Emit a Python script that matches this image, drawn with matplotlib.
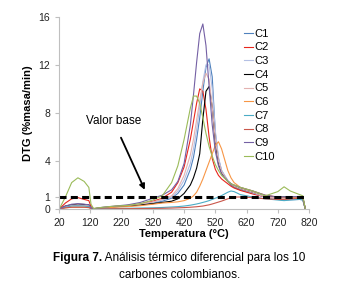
import matplotlib
matplotlib.use("Agg")
import matplotlib.pyplot as plt

plt.rcParams["font.family"] = ["Liberation Sans", "DejaVu Sans"]

# temperature grid (°C) shared by all curves
temp = [20, 40, 60, 80, 100, 115, 122, 130, 160, 200, 240, 280, 320, 350, 380,
        400, 420, 440, 450, 460, 470, 480, 490, 500, 510, 520, 530, 540, 560,
        570, 580, 600, 640, 680, 720, 740, 760, 790, 800, 808]

c1 = [0, 0.2, 0.3, 0.3, 0.3, 0.25, 0.08, 0.02, 0.1, 0.2, 0.25, 0.35, 0.5, 0.65, 0.9,
      1.3, 2.0, 3.3, 4.3, 5.8, 7.6, 9.8, 11.8, 12.5, 11.0, 6.3, 4.2, 3.2, 2.3,
      2.0, 1.8, 1.6, 1.3, 1.0, 0.85, 0.8, 0.8, 0.85, 0.8, 0]
c2 = [0, 0.5, 0.85, 0.95, 0.8, 0.7, 0.2, 0.03, 0.12, 0.22, 0.3, 0.42, 0.65, 0.9, 1.4,
      2.2, 3.5, 5.8, 7.3, 8.8, 10.0, 9.8, 8.3, 6.0, 4.2, 3.3, 2.8, 2.5, 2.1,
      1.9, 1.75, 1.55, 1.25, 1.0, 0.8, 0.75, 0.8, 0.85, 0.8, 0]
c3 = [0, 0.15, 0.3, 0.35, 0.3, 0.25, 0.08, 0.02, 0.12, 0.2, 0.28, 0.4, 0.55, 0.75, 1.0,
      1.5, 2.4, 3.8, 5.0, 6.6, 8.5, 10.6, 12.0, 12.0, 10.0, 6.5, 4.3, 3.2, 2.4,
      2.1, 1.9, 1.7, 1.35, 1.0, 0.8, 0.75, 0.75, 0.8, 0.75, 0]
c4 = [0, 0.25, 0.35, 0.4, 0.38, 0.35, 0.1, 0.02, 0.1, 0.2, 0.25, 0.35, 0.45, 0.55, 0.65,
      0.85, 1.3, 2.0, 2.6, 3.4, 4.6, 7.5, 9.8, 10.2, 8.5, 5.5, 3.8, 3.0, 2.3,
      2.1, 1.9, 1.7, 1.4, 1.1, 1.0, 1.0, 1.0, 1.0, 0.95, 0]
c5 = [0, 0.2, 0.3, 0.35, 0.3, 0.3, 0.1, 0.02, 0.12, 0.22, 0.3, 0.42, 0.6, 0.8, 1.1,
      1.7, 2.8, 4.5, 5.8, 7.4, 9.0, 10.5, 11.3, 10.8, 8.5, 5.8, 4.0, 3.1, 2.3,
      2.1, 1.9, 1.7, 1.4, 1.05, 0.9, 0.85, 0.85, 0.9, 0.85, 0]
c6 = [0, 0.1, 0.15, 0.15, 0.15, 0.12, 0.05, 0.01, 0.08, 0.15, 0.2, 0.28, 0.4, 0.5, 0.55,
      0.6, 0.7, 0.9, 1.1, 1.4, 1.9, 2.5, 3.2, 3.9, 4.6, 5.3, 5.6, 5.0, 3.2,
      2.6, 2.2, 1.8, 1.5, 1.15, 1.0, 0.95, 0.95, 1.0, 0.95, 0]
c7 = [0, 0.15, 0.25, 0.25, 0.25, 0.2, 0.05, 0.0, 0.02, 0.04, 0.06, 0.08, 0.1, 0.13, 0.17,
      0.2, 0.25, 0.32, 0.37, 0.42, 0.48, 0.55, 0.62, 0.7, 0.8, 0.9, 1.0, 1.12, 1.4,
      1.5, 1.45, 1.2, 1.0, 0.85, 0.75, 0.7, 0.75, 0.8, 0.75, 0]
c8 = [0, 0.1, 0.15, 0.15, 0.15, 0.12, 0.04, 0.0, 0.01, 0.02, 0.03, 0.04, 0.05, 0.06, 0.08,
      0.1, 0.12, 0.15, 0.17, 0.19, 0.22, 0.25, 0.3, 0.35, 0.42, 0.5, 0.58, 0.66, 0.85,
      0.95, 1.0, 1.0, 0.95, 0.85, 0.8, 0.8, 0.85, 0.9, 0.9, 0]
c9 = [0, 0.25, 0.4, 0.45, 0.4, 0.35, 0.1, 0.02, 0.15, 0.25, 0.35, 0.55, 0.9, 1.15, 1.6,
      2.3, 3.8, 7.0, 9.5, 12.2, 14.6, 15.4, 13.6, 10.2, 7.0, 4.8, 3.6, 2.9, 2.3,
      2.1, 2.0, 1.8, 1.5, 1.15, 1.0, 1.0, 1.0, 1.05, 1.0, 0]
c10 = [0, 1.0, 2.2, 2.6, 2.3, 1.8, 0.4, 0.05, 0.15, 0.25, 0.3, 0.45, 0.75, 1.1, 2.2,
       3.6, 5.8, 8.4, 9.4, 9.4, 8.8, 7.6, 6.3, 5.2, 4.4, 3.7, 3.2, 2.8, 2.3,
       2.1, 2.0, 1.8, 1.5, 1.1, 1.45, 1.85, 1.5, 1.2, 1.1, 0]

series = [c1, c2, c3, c4, c5, c6, c7, c8, c9, c10]
names = ["C1", "C2", "C3", "C4", "C5", "C6", "C7", "C8", "C9", "C10"]
colors = ["#4F81BD", "#E8261C", "#B4C0E4", "#000000", "#E3B2B0",
          "#F79646", "#4BACC6", "#C9574B", "#7460A4", "#9BBB59"]

base_value = 1
base_range = [20, 805]
xticks = [20, 120, 220, 320, 420, 520, 620, 720, 820]
yticks = [0, 1, 4, 8, 12, 16]

fig = plt.figure(figsize=(3.4, 2.94), dpi=100)
ax = fig.add_axes([0.174, 0.289, 0.735, 0.654])

for y, name, col in zip(series, names, colors):
    ax.plot(temp, y, color=col, lw=0.8, label=name)

ax.plot(base_range, [base_value, base_value], color="black", lw=2.2,
        dashes=(2.3, 1.4))

ax.annotate("Valor base", xy=(294, 1.6), xytext=(194, 7.3),
            ha="center", va="center", fontsize=8.5,
            arrowprops=dict(arrowstyle="-|>", color="black", lw=1.3,
                            mutation_scale=8, shrinkA=6, shrinkB=0))

ax.set_xlim(20, 820)
ax.set_ylim(0, 16)
ax.set_xticks(xticks)
ax.set_yticks(yticks)
ax.tick_params(labelsize=7.5, colors="#BFBFBF", labelcolor="#222222",
               length=3, width=0.8)
for s in ["top", "right"]:
    ax.spines[s].set_visible(False)
for s in ["left", "bottom"]:
    ax.spines[s].set_color("#BFBFBF")
    ax.spines[s].set_linewidth(0.8)

ax.set_xlabel("Temperatura (°C)", fontsize=8, fontweight="bold", labelpad=1)
ax.set_ylabel("DTG (%masa/min)", fontsize=8, fontweight="bold", labelpad=4)

fig.legend(loc="upper left", bbox_to_anchor=(0.718, 0.902), frameon=False,
           fontsize=8, handlelength=0.8, handletextpad=0.15,
           labelspacing=0.33, borderpad=0, borderaxespad=0)

# caption with bold lead-in
fig.canvas.draw()
r = fig.canvas.get_renderer()
cap_y = 1 - 258 / 294
t1 = fig.text(0, cap_y, "Figura 7.", fontsize=8.5, fontweight="bold",
              va="center", ha="left")
t2 = fig.text(0, cap_y, " Análisis térmico diferencial para los 10",
              fontsize=8.5, va="center", ha="left")
w1 = t1.get_window_extent(r).width / fig.bbox.width
w2 = t2.get_window_extent(r).width / fig.bbox.width
x0 = 0.527 - (w1 + w2) / 2
t1.set_x(x0)
t2.set_x(x0 + w1)
fig.text(0.527, 1 - 275 / 294, "carbones colombianos.", fontsize=8.5,
         va="center", ha="center")

fig.savefig("out.png", dpi=100)
